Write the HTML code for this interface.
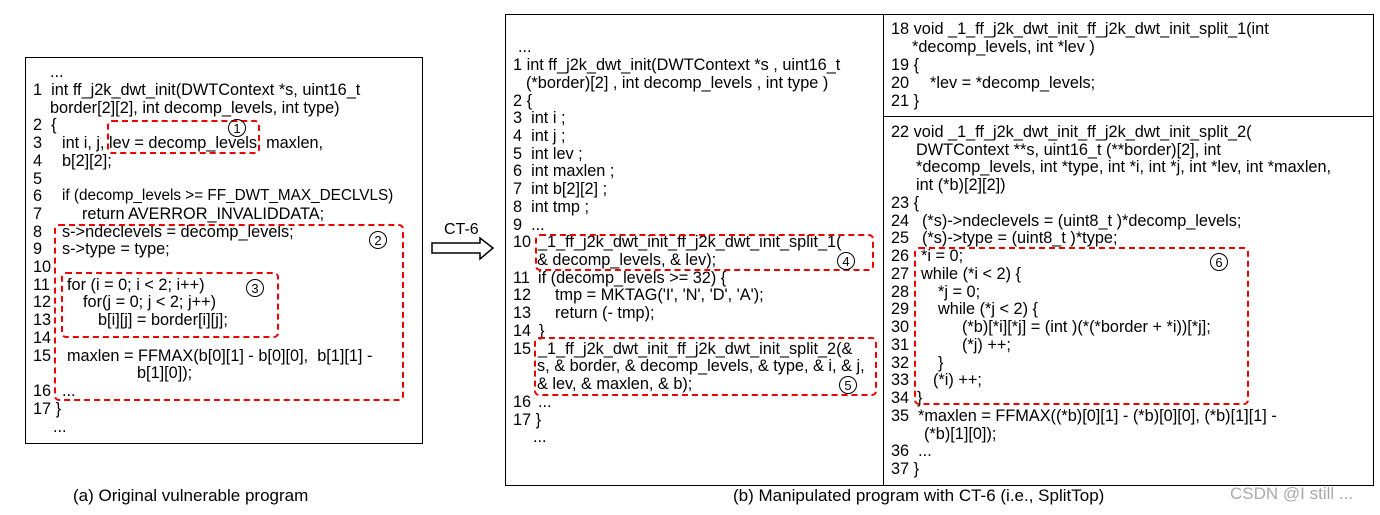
<!DOCTYPE html>
<html><head><meta charset="utf-8"><style>
body{margin:0;background:#fff;}
#c{position:relative;width:1380px;height:515px;overflow:hidden;font-family:"Liberation Sans",sans-serif;font-size:16.3px;color:#000;}
.l{position:absolute;height:18px;line-height:18px;white-space:pre;}
.box{position:absolute;border:1.5px solid #000;box-sizing:border-box;}
.d{position:absolute;border:2px dashed #e00;border-radius:5px;box-sizing:border-box;}
.n{position:absolute;width:18px;height:18px;border:1px solid #000;border-radius:50%;font-size:13px;line-height:18px;text-align:center;box-sizing:border-box;}
</style></head><body><div id="c">
<div class="box" style="left:25px;top:57px;width:398px;height:387px"></div>
<div class="box" style="left:505px;top:14px;width:379px;height:472px"></div>
<div class="box" style="left:883px;top:14px;width:491px;height:103px"></div>
<div class="box" style="left:883px;top:116px;width:491px;height:370px"></div>

<!-- left -->
<div class="l" style="left:50px;top:63px">...</div>
<div class="l" style="left:33px;top:81px">1  int ff_j2k_dwt_init(DWTContext *s, uint16_t</div>
<div class="l" style="left:50px;top:99px">border[2][2], int decomp_levels, int type)</div>
<div class="l" style="left:33px;top:116px">2  {</div>
<div class="l" style="left:33px;top:134px">3</div><div class="l" style="left:62px;top:134px">int i, j, lev = decomp_levels, maxlen,</div>
<div class="l" style="left:33px;top:152px">4</div><div class="l" style="left:62px;top:152px">b[2][2];</div>
<div class="l" style="left:33px;top:170px">5</div>
<div class="l" style="left:33px;top:187px">6</div><div class="l" style="left:62px;top:187px;font-size:15.3px">if (decomp_levels &gt;= FF_DWT_MAX_DECLVLS)</div>
<div class="l" style="left:33px;top:205px">7</div><div class="l" style="left:82px;top:205px">return AVERROR_INVALIDDATA;</div>
<div class="l" style="left:33px;top:223px">8</div><div class="l" style="left:62px;top:223px">s-&gt;ndeclevels = decomp_levels;</div>
<div class="l" style="left:33px;top:240px">9</div><div class="l" style="left:62px;top:240px">s-&gt;type = type;</div>
<div class="l" style="left:33px;top:258px">10</div>
<div class="l" style="left:33px;top:276px">11</div><div class="l" style="left:67px;top:276px">for (i = 0; i &lt; 2; i++)</div>
<div class="l" style="left:33px;top:293px">12</div><div class="l" style="left:83px;top:293px">for(j = 0; j &lt; 2; j++)</div>
<div class="l" style="left:33px;top:311px">13</div><div class="l" style="left:98px;top:311px">b[i][j] = border[i][j];</div>
<div class="l" style="left:33px;top:329px">14</div>
<div class="l" style="left:33px;top:347px">15</div><div class="l" style="left:67px;top:347px">maxlen = FFMAX(b[0][1] - b[0][0],  b[1][1] -</div>
<div class="l" style="left:137px;top:364px">b[1][0]);</div>
<div class="l" style="left:33px;top:382px">16</div><div class="l" style="left:62px;top:382px">...</div>
<div class="l" style="left:33px;top:400px">17 }</div>
<div class="l" style="left:53px;top:418px">...</div>
<div class="d" style="left:107px;top:120px;width:153px;height:34px"></div><div class="n" style="left:228px;top:119px">1</div>
<div class="d" style="left:54px;top:224px;width:350px;height:177px"></div><div class="n" style="left:369px;top:231px">2</div>
<div class="d" style="left:61px;top:272px;width:218px;height:66px"></div><div class="n" style="left:246px;top:279px">3</div>

<!-- arrow -->
<div class="l" style="left:444px;top:221px;font-size:16px">CT-6</div>
<svg style="position:absolute;left:428px;top:234px" width="72" height="30"><polygon points="4,9 52,9 52,4 65,14 52,25 52,19 4,19" fill="#fff" stroke="#000" stroke-width="1.5"/></svg>

<!-- middle -->
<div class="l" style="left:518px;top:38px">...</div>
<div class="l" style="left:513px;top:56px">1 int ff_j2k_dwt_init(DWTContext *s , uint16_t</div>
<div class="l" style="left:526px;top:74px">(*border)[2] , int decomp_levels , int type )</div>
<div class="l" style="left:513px;top:92px">2 {</div>
<div class="l" style="left:513px;top:109px">3  int i ;</div>
<div class="l" style="left:513px;top:127px">4  int j ;</div>
<div class="l" style="left:513px;top:145px">5  int lev ;</div>
<div class="l" style="left:513px;top:162px">6  int maxlen ;</div>
<div class="l" style="left:513px;top:180px">7  int b[2][2] ;</div>
<div class="l" style="left:513px;top:198px">8  int tmp ;</div>
<div class="l" style="left:513px;top:216px">9  ...</div>
<div class="l" style="left:513px;top:233px">10</div><div class="l" style="left:538px;top:233px">_1_ff_j2k_dwt_init_ff_j2k_dwt_init_split_1(</div>
<div class="l" style="left:537px;top:251px">&amp; decomp_levels, &amp; lev);</div>
<div class="l" style="left:513px;top:269px">11</div><div class="l" style="left:538px;top:269px">if (decomp_levels &gt;= 32) {</div>
<div class="l" style="left:513px;top:286px">12</div><div class="l" style="left:555px;top:286px">tmp = MKTAG('I', 'N', 'D', 'A');</div>
<div class="l" style="left:513px;top:304px">13</div><div class="l" style="left:555px;top:304px">return (- tmp);</div>
<div class="l" style="left:513px;top:322px">14</div><div class="l" style="left:539px;top:322px">}</div>
<div class="l" style="left:513px;top:340px">15</div><div class="l" style="left:538px;top:340px">_1_ff_j2k_dwt_init_ff_j2k_dwt_init_split_2(&amp;</div>
<div class="l" style="left:537px;top:357px">s, &amp; border, &amp; decomp_levels, &amp; type, &amp; i, &amp; j,</div>
<div class="l" style="left:537px;top:375px">&amp; lev, &amp; maxlen, &amp; b);</div>
<div class="l" style="left:513px;top:393px">16</div><div class="l" style="left:538px;top:393px">...</div>
<div class="l" style="left:513px;top:411px">17 }</div>
<div class="l" style="left:533px;top:428px">...</div>
<div class="d" style="left:535px;top:234px;width:339px;height:37px"></div><div class="n" style="left:837px;top:252px">4</div>
<div class="d" style="left:534px;top:337px;width:343px;height:59px"></div><div class="n" style="left:839px;top:376px">5</div>

<!-- right top -->
<div class="l" style="left:891px;top:20px">18 void _1_ff_j2k_dwt_init_ff_j2k_dwt_init_split_1(int</div>
<div class="l" style="left:912px;top:38px">*decomp_levels, int *lev )</div>
<div class="l" style="left:891px;top:56px">19 {</div>
<div class="l" style="left:891px;top:74px">20</div><div class="l" style="left:930px;top:74px">*lev = *decomp_levels;</div>
<div class="l" style="left:891px;top:92px">21 }</div>

<!-- right bottom -->
<div class="l" style="left:891px;top:123px">22 void _1_ff_j2k_dwt_init_ff_j2k_dwt_init_split_2(</div>
<div class="l" style="left:916px;top:141px">DWTContext **s, uint16_t (**border)[2], int</div>
<div class="l" style="left:916px;top:158px">*decomp_levels, int *type, int *i, int *j, int *lev, int *maxlen,</div>
<div class="l" style="left:916px;top:176px">int (*b)[2][2])</div>
<div class="l" style="left:891px;top:194px">23 {</div>
<div class="l" style="left:891px;top:212px">24</div><div class="l" style="left:922px;top:212px">(*s)-&gt;ndeclevels = (uint8_t )*decomp_levels;</div>
<div class="l" style="left:891px;top:229px">25</div><div class="l" style="left:922px;top:229px">(*s)-&gt;type = (uint8_t )*type;</div>
<div class="l" style="left:891px;top:247px">26</div><div class="l" style="left:921px;top:247px">*i = 0;</div>
<div class="l" style="left:891px;top:265px">27</div><div class="l" style="left:921px;top:265px">while (*i &lt; 2) {</div>
<div class="l" style="left:891px;top:283px">28</div><div class="l" style="left:938px;top:283px">*j = 0;</div>
<div class="l" style="left:891px;top:300px">29</div><div class="l" style="left:938px;top:300px">while (*j &lt; 2) {</div>
<div class="l" style="left:891px;top:318px">30</div><div class="l" style="left:962px;top:318px">(*b)[*i][*j] = (int )(*(*border + *i))[*j];</div>
<div class="l" style="left:891px;top:336px">31</div><div class="l" style="left:962px;top:336px">(*j) ++;</div>
<div class="l" style="left:891px;top:354px">32</div><div class="l" style="left:938px;top:354px">}</div>
<div class="l" style="left:891px;top:371px">33</div><div class="l" style="left:933px;top:371px">(*i) ++;</div>
<div class="l" style="left:891px;top:389px">34</div><div class="l" style="left:917px;top:389px">}</div>
<div class="l" style="left:891px;top:407px">35</div><div class="l" style="left:918px;top:407px">*maxlen = FFMAX((*b)[0][1] - (*b)[0][0], (*b)[1][1] -</div>
<div class="l" style="left:924px;top:425px">(*b)[1][0]);</div>
<div class="l" style="left:891px;top:442px">36  ...</div>
<div class="l" style="left:891px;top:460px">37 }</div>
<div class="d" style="left:914px;top:247px;width:335px;height:158px"></div><div class="n" style="left:1210px;top:253px">6</div>

<!-- captions -->
<div class="l" style="left:73px;top:487px;font-size:17px">(a) Original vulnerable program</div>
<div class="l" style="left:733px;top:487px;font-size:17px">(b) Manipulated program with CT-6 (i.e., SplitTop)</div>
<div class="l" style="left:1230px;top:485px;font-size:17px;color:#aaa">CSDN @I still ...</div>
</div></body></html>
